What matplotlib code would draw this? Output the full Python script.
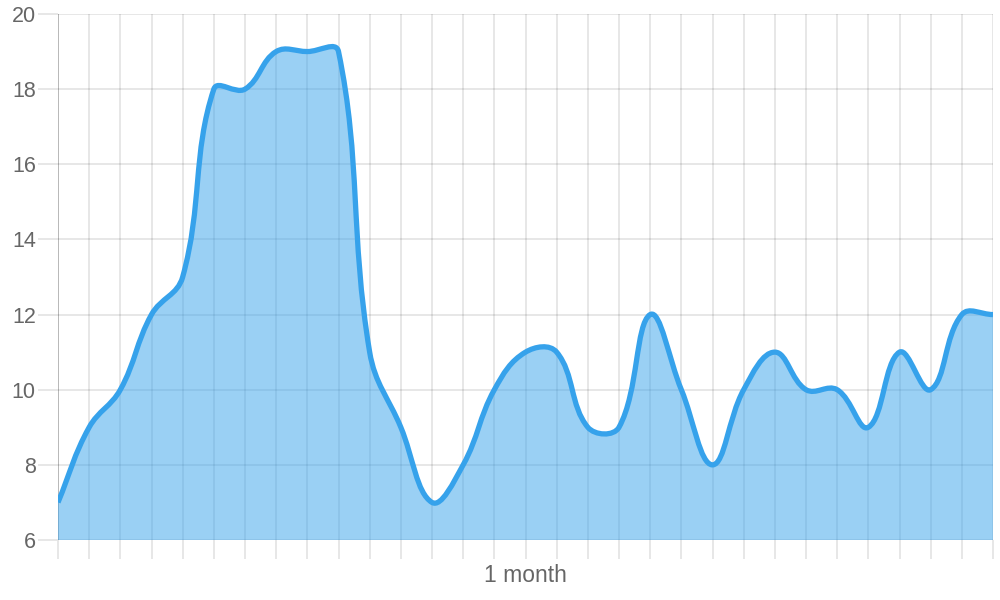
import numpy as np
import matplotlib.pyplot as plt
from matplotlib.path import Path
from matplotlib.patches import PathPatch

# one value per day, 31 days
days = list(range(1, 32))
values = [7, 9, 10, 12, 13, 18, 18, 19, 19, 19, 11, 9, 7, 8, 10, 11,
          11, 9, 9, 12, 10, 8, 10, 11, 10, 10, 9, 11, 10, 12, 12]
y_ticks = [6, 8, 10, 12, 14, 16, 18, 20]
x_title = "1 month"

line_color = (54 / 255, 162 / 255, 235 / 255)
text_color = "#666666"

plt.rcParams["font.family"] = ["Liberation Sans", "DejaVu Sans"]


def spline_path(xs, ys, sx, sy, tension=0.4):
    """Chart.js style bezier through the points (distances in pixels)."""
    n = len(xs)
    c_in, c_out = [], []
    for i in range(n):
        p = max(i - 1, 0)
        q = min(i + 1, n - 1)
        d01 = np.hypot((xs[i] - xs[p]) * sx, (ys[i] - ys[p]) * sy)
        d12 = np.hypot((xs[q] - xs[i]) * sx, (ys[q] - ys[i]) * sy)
        tot = d01 + d12
        s01 = d01 / tot if tot else 0
        s12 = d12 / tot if tot else 0
        fa, fb = tension * s01, tension * s12
        dx, dy = xs[q] - xs[p], ys[q] - ys[p]
        c_in.append((xs[i] - fa * dx, ys[i] - fa * dy))
        c_out.append((xs[i] + fb * dx, ys[i] + fb * dy))
    verts = [(xs[0], ys[0])]
    codes = [Path.MOVETO]
    for i in range(n - 1):
        verts += [c_out[i], c_in[i + 1], (xs[i + 1], ys[i + 1])]
        codes += [Path.CURVE4] * 3
    return verts, codes


fig = plt.figure(figsize=(10, 6), dpi=100)
ax = fig.add_axes([0.058, 0.1, 0.935, 0.8767])

x = np.arange(len(days))
ymin, ymax = y_ticks[0], y_ticks[-1]
ax.set_xlim(x[0], x[-1])
ax.set_ylim(ymin, ymax)

sx = 935 / (x[-1] - x[0])
sy = 526 / (ymax - ymin)
verts, codes = spline_path(list(x), values, sx, sy)

fill_verts = verts + [(x[-1], ymin), (x[0], ymin), (x[0], ymin)]
fill_codes = codes + [Path.LINETO, Path.LINETO, Path.CLOSEPOLY]
ax.add_patch(PathPatch(Path(fill_verts, fill_codes), facecolor=line_color,
                       alpha=0.5, edgecolor="none", zorder=3))
ax.add_patch(PathPatch(Path(verts, codes), facecolor="none",
                       edgecolor=line_color, lw=3.8, zorder=4,
                       capstyle="butt", joinstyle="round"))

for s in ax.spines.values():
    s.set_visible(False)

ax.set_xticks(x)
ax.set_yticks(y_ticks)
ax.grid(True, color="black", alpha=0.1, lw=1.3)
ax.tick_params(axis="x", length=14, width=1.3, color="#e5e5e5",
               labelbottom=False)
ax.tick_params(axis="y", length=14.5, width=1.3, color="#e5e5e5",
               labelsize=15.5, labelcolor=text_color, pad=1.5)

# first x grid line is the darker zero line
t0 = ax.xaxis.get_major_ticks()[0]
t0.gridline.set_alpha(0.3)
t0.tick1line.set_color("#b0b0b0")

ax.set_xlabel(x_title, fontsize=16.5, color=text_color, labelpad=3)

fig.savefig("out.png", dpi=100)
